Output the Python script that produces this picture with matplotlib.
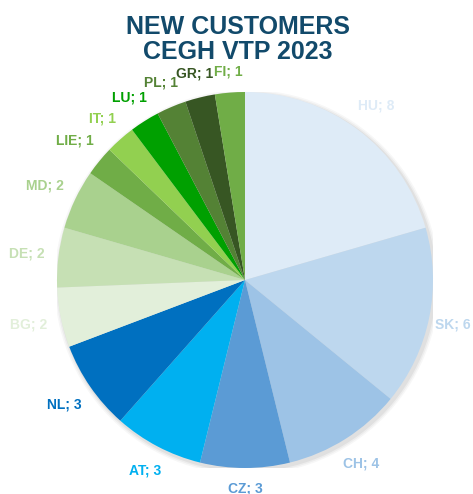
import numpy as np
import matplotlib.pyplot as plt
from matplotlib.patches import Circle

plt.rcParams['font.family'] = ['Liberation Sans', 'DejaVu Sans']

countries = ['HU', 'SK', 'CH', 'CZ', 'AT', 'NL', 'BG', 'DE', 'MD',
             'LIE', 'IT', 'LU', 'PL', 'GR', 'FI']
customers = [8, 6, 4, 3, 3, 3, 2, 2, 2, 1, 1, 1, 1, 1, 1]
colors = ['#DEEBF7', '#BDD7EE', '#9DC3E6', '#5B9BD5', '#00B0F0', '#0070C0',
          '#E2EFDA', '#C6E0B4', '#A9D18E', '#70AD47', '#92D050', '#00A000',
          '#548235', '#375623', '#70AD47']

W, H = 473, 494
cx, cy, r = 245, 280, 188

fig = plt.figure(figsize=(W / 100, H / 100), dpi=100)
ax = fig.add_axes([(cx - r) / W, (H - cy - r) / H, 2 * r / W, 2 * r / H])

# soft shadow behind the pie
for i, a in enumerate([0.05, 0.04, 0.03]):
    ax.add_patch(Circle((0.01, -0.012), 1.0 + 0.008 * (i + 1), color='#000000',
                        alpha=a, lw=0, zorder=0))

wedges, _ = ax.pie(customers, colors=colors, startangle=90, counterclock=False,
                   radius=1.0, wedgeprops=dict(linewidth=0))

ax.set_xlim(-1, 1)
ax.set_ylim(-1, 1)
ax.set_aspect('equal')
ax.axis('off')

# labels placed just outside the rim, spaced by their own size
renderer = fig.canvas.get_renderer()
gap = 0.07
x_right = (W - 2 - cx) / r  # keep labels inside the figure
for w, c, v, col in zip(wedges, countries, customers, colors):
    ang = np.deg2rad((w.theta1 + w.theta2) / 2)
    t = ax.text(0, 0, f'{c}; {v}', fontsize=10, fontweight='bold', color=col,
                ha='center', va='center')
    bb = t.get_window_extent(renderer)
    hw = bb.width / 2 / r
    hh = bb.height / 2 / r
    d = 1.0 + gap + hw * abs(np.cos(ang)) + hh * abs(np.sin(ang))
    x, y = d * np.cos(ang), d * np.sin(ang)
    x = min(x, x_right - hw)
    t.set_position((x, y))

fig.text(0.503, 0.92, 'NEW CUSTOMERS\nCEGH VTP 2023', ha='center', va='center',
         fontsize=18, fontweight='bold', color='#124A6B', linespacing=1.05)

fig.savefig('out.png', dpi=100, facecolor='white')
